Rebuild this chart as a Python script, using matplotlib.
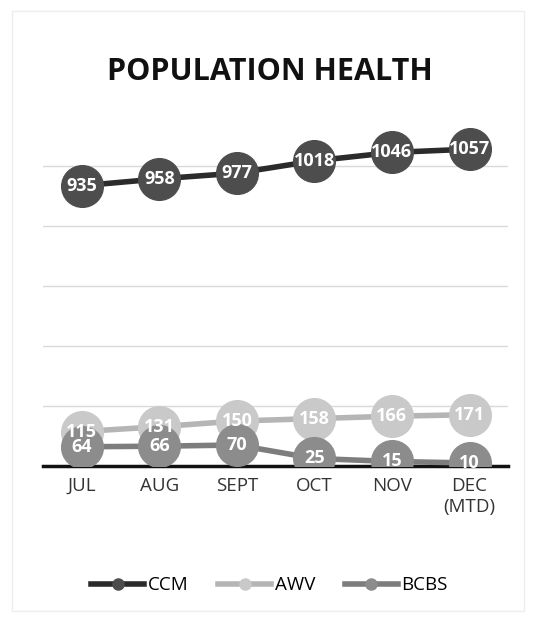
import matplotlib.pyplot as plt
from matplotlib.lines import Line2D

plt.rcParams["font.family"] = ["Open Sans", "DejaVu Sans"]

# Data
months = ["JUL", "AUG", "SEPT", "OCT", "NOV", "DEC\n(MTD)"]
ccm = [935, 958, 977, 1018, 1046, 1057]
awv = [115, 131, 150, 158, 166, 171]
bcbs = [64, 66, 70, 25, 15, 10]

series = [
    # (label, values, line colour, marker colour)
    ("CCM", ccm, "#2b2b2b", "#4d4d4d"),
    ("AWV", awv, "#b5b5b5", "#c9c9c9"),
    ("BCBS", bcbs, "#7d7d7d", "#8c8c8c"),
]

fig = plt.figure(figsize=(5.39, 6.18), dpi=100)
ax = fig.add_axes([0.08, 0.246, 0.863, 0.582])

x = list(range(len(months)))
for i, (name, vals, lc, mc) in enumerate(series):
    ax.plot(x, vals, color=lc, lw=4, marker="o", markersize=30,
            markerfacecolor=mc, markeredgecolor=mc, zorder=3 + i)
    # labels on top of every marker so overlapping ones stay readable
    for xi, v in zip(x, vals):
        ax.text(xi, v, str(v), ha="center", va="center", color="white",
                fontsize=13, fontweight="bold", zorder=10)

ax.set_xlim(-0.5, len(months) - 0.5)
ax.set_ylim(0, 1200)
ax.set_yticks(range(0, 1001, 200))
ax.yaxis.grid(True, color="#d9d9d9", lw=1)
ax.set_axisbelow(True)
ax.tick_params(axis="y", left=False, labelleft=False)
ax.tick_params(axis="x", length=0, pad=8, labelsize=13.5, labelcolor="#333333")
ax.set_xticks(x)
ax.set_xticklabels(months)
for s in ["top", "right", "left"]:
    ax.spines[s].set_visible(False)
ax.spines["bottom"].set_color("#111111")
ax.spines["bottom"].set_linewidth(2.5)

fig.text(0.5, 0.883, "POPULATION HEALTH", ha="center", va="center",
         fontsize=22, fontweight="bold", color="#111111")

handles = [Line2D([0], [0], color=lc, lw=4, marker="o", markersize=8,
                  markerfacecolor=mc, markeredgecolor=mc)
           for _, _, lc, mc in series]
fig.legend(handles, [s[0] for s in series], loc="center",
           bbox_to_anchor=(0.5, 0.053), ncol=3, frameon=False,
           fontsize=13.5, handlelength=2.8, handletextpad=0.2,
           columnspacing=1.6)

# light page border like the scanned frame
fig.patches.append(plt.Rectangle((0.022, 0.012), 0.95, 0.97, transform=fig.transFigure,
                                 fill=False, edgecolor="#eeeeee", lw=1))

fig.savefig("out.png", dpi=100)
